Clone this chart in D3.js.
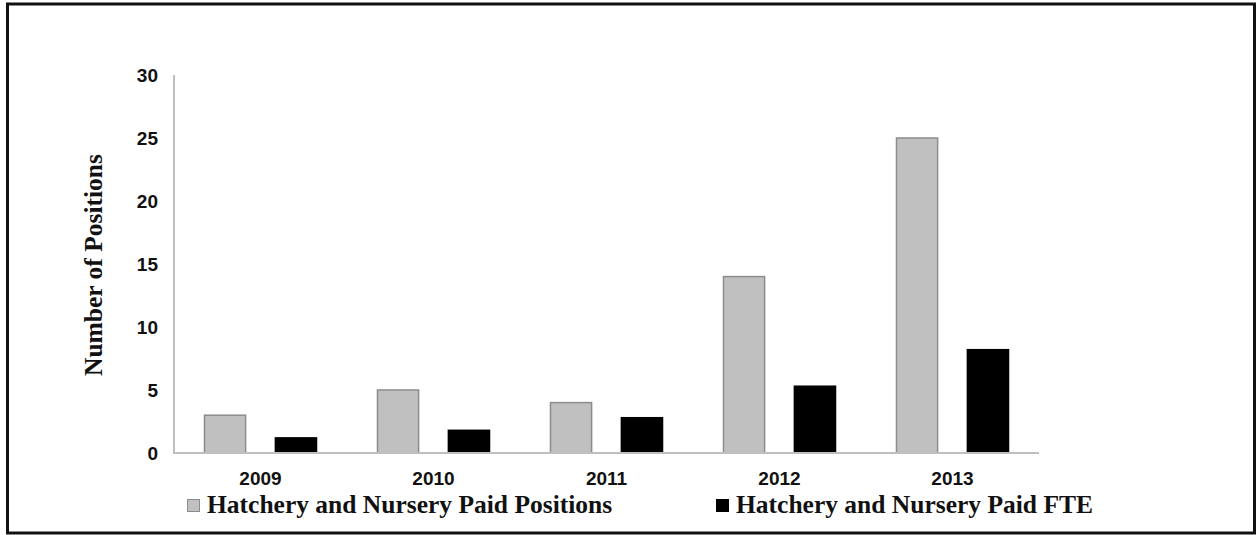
<!DOCTYPE html>
<html>
<head>
<meta charset="utf-8">
<script src="https://cdn.jsdelivr.net/npm/d3@7"></script>
<style>
  body { margin: 0; background: #fff; }
  svg { display: block; }
  .tick-label { font-family: "Liberation Sans", Arial, sans-serif; font-weight: bold; font-size: 19px; fill: #111; }
  .serif { font-family: "Liberation Serif", "Times New Roman", serif; font-weight: bold; fill: #111; }
</style>
</head>
<body>
<div id="chart"></div>
<script>
// Data
const years = ["2009", "2010", "2011", "2012", "2013"];
const seriesNames = ["Hatchery and Nursery Paid Positions", "Hatchery and Nursery Paid FTE"];
const paidPositions = [3, 5, 4, 14, 25];
const paidFTE = [1.2, 1.8, 2.8, 5.3, 8.2];
const yTicks = [0, 5, 10, 15, 20, 25, 30];

const width = 1257, height = 535;
const seriesColor = ["#c0c0c0", "#000000"];
const seriesStroke = ["#8c8c8c", "#000000"];

const svg = d3.select("#chart").append("svg")
  .attr("width", width)
  .attr("height", height);

// outer frame
svg.append("rect")
  .attr("x", 7.5).attr("y", 4)
  .attr("width", 1247).attr("height", 529)
  .attr("fill", "none")
  .attr("stroke", "#111")
  .attr("stroke-width", 3);

// scales
const x0 = d3.scaleBand().domain(years).range([174, 1039]);
const x1 = d3.scaleBand().domain([0, 1]).range([0, x0.bandwidth()])
  .paddingInner(0.42).paddingOuter(0.43);
const y = d3.scaleLinear().domain([0, 30]).range([453, 75]);

// y tick labels
svg.append("g").selectAll("text")
  .data(yTicks)
  .join("text")
  .attr("class", "tick-label")
  .attr("x", 158)
  .attr("y", d => y(d))
  .attr("dy", "0.36em")
  .attr("text-anchor", "end")
  .text(d => d);

// bars
const rows = years.map((yr, i) => ({ year: yr, values: [paidPositions[i], paidFTE[i]] }));
const groups = svg.append("g").selectAll("g")
  .data(rows)
  .join("g")
  .attr("transform", d => `translate(${x0(d.year)},0)`);

groups.selectAll("rect")
  .data(d => d.values.map((v, k) => ({ k, v })))
  .join("rect")
  .attr("x", d => x1(d.k))
  .attr("width", x1.bandwidth())
  .attr("y", d => y(d.v))
  .attr("height", d => y(0) - y(d.v))
  .attr("fill", d => seriesColor[d.k])
  .attr("stroke", d => seriesStroke[d.k])
  .attr("stroke-width", 1.5);

// axes lines
svg.append("line")
  .attr("x1", 174).attr("x2", 174)
  .attr("y1", y(30)).attr("y2", y(0))
  .attr("stroke", "#bfbfbf").attr("stroke-width", 2);
svg.append("line")
  .attr("x1", 173).attr("x2", 1039)
  .attr("y1", y(0)).attr("y2", y(0))
  .attr("stroke", "#bfbfbf").attr("stroke-width", 2);

// year labels
svg.append("g").selectAll("text")
  .data(years)
  .join("text")
  .attr("class", "tick-label")
  .attr("x", d => x0(d) + x0.bandwidth() / 2)
  .attr("y", 485)
  .attr("text-anchor", "middle")
  .text(d => d);

// y axis title
svg.append("text")
  .attr("class", "serif")
  .attr("font-size", 25.5)
  .attr("transform", "translate(102,265) rotate(-90)")
  .attr("text-anchor", "middle")
  .text("Number of Positions");

// legend
const legendX = [187, 716];
const legend = svg.append("g").selectAll("g")
  .data(seriesNames)
  .join("g")
  .attr("transform", (d, i) => `translate(${legendX[i]},0)`);

legend.append("rect")
  .attr("x", 0.5).attr("y", 499.5)
  .attr("width", 12).attr("height", 12)
  .attr("fill", (d, i) => seriesColor[i])
  .attr("stroke", (d, i) => seriesStroke[i])
  .attr("stroke-width", 1);

legend.append("text")
  .attr("class", "serif")
  .attr("font-size", 25.5)
  .attr("x", 20)
  .attr("y", 513)
  .text(d => d);
</script>
</body>
</html>
